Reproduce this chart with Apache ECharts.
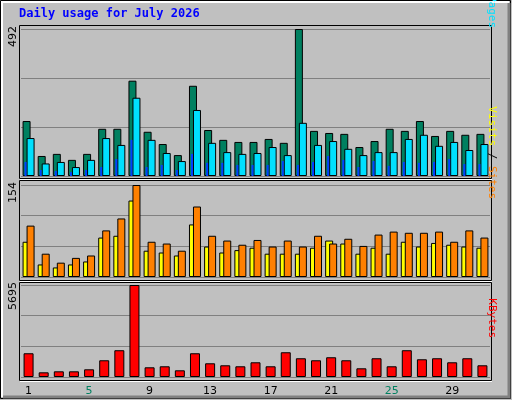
<!DOCTYPE html>
<html><head><meta charset="utf-8">
<script src="https://cdn.jsdelivr.net/npm/echarts@6/dist/echarts.min.js"></script>
<style>html,body{margin:0;padding:0;background:#c0c0c0}#c{width:512px;height:400px}</style>
</head><body><div id="c"></div>
<script>
const days = ['1','2','3','4','5','6','7','8','9','10','11','12','13','14','15','16','17','18','19','20','21','22','23','24','25','26','27','28','29','30','31'];
const weekend = [4,5,11,12,18,19,25,26];
const hits  = [184,67,74,54,74,158,158,319,148,107,70,302,154,121,114,114,124,111,492,151,144,141,97,117,158,151,184,134,151,138,141];
const files = [127,42,47,30,54,127,104,262,121,77,50,221,111,80,74,77,97,70,178,104,117,91,70,80,80,124,138,101,114,87,107];
const pages = [47,20,17,13,20,30,57,121,30,37,20,74,44,44,37,37,37,50,37,47,67,54,30,50,34,47,44,47,57,40,40];
const visits= [59,21,16,21,26,66,69,128,44,41,36,88,51,41,45,49,39,39,39,49,61,56,39,49,39,59,51,57,54,51,49];
const sites = [86,39,24,32,36,78,98,154,59,56,44,118,69,61,54,62,51,61,51,69,56,64,52,71,76,74,74,76,59,78,66];
const kbytes= [1470,290,352,352,476,1035,1657,5695,600,663,414,1470,849,725,663,911,663,1532,1160,1035,1222,1035,538,1160,663,1657,1097,1160,911,1160,725];

const chart = echarts.init(document.getElementById('c'), null, {renderer:'canvas'});
const L=21, R=22;
const panels = [{top:29,h:147,max:Math.max(...hits)},{top:185,h:92,max:Math.max(...sites)},{top:285,h:92,max:Math.max(...kbytes)}];
const grids = panels.map(p=>({left:L,right:R,top:p.top,height:p.h,show:false}));
const xAxes = [], yAxes = [];
panels.forEach((p,i)=>{
  xAxes.push({type:'category',data:days,gridIndex:i,axisLine:{show:false},axisTick:{show:false},
    axisLabel:{show:i===2,margin:9,fontFamily:'DejaVu Sans',fontSize:11,color:'#000',
      formatter:v=>weekend.includes(+v)?'{w|'+v+'}':v,rich:{w:{color:'#008060',fontFamily:'DejaVu Sans',fontSize:11}}}});
  yAxes.push({type:'value',gridIndex:i,min:0,max:p.max,interval:p.max/3,axisLabel:{show:false},axisLine:{show:false},axisTick:{show:false},
    splitLine:{lineStyle:{color:'#808080',width:1}}});
});
// extra x axis for pages offset
xAxes.push({type:'category',data:days,gridIndex:0,show:false});
const border={borderColor:'#000',borderWidth:1};
const series=[
 {type:'bar',xAxisIndex:0,yAxisIndex:0,data:hits,barWidth:8,barGap:'-50%',itemStyle:{color:'#008060',...border}},
 {type:'bar',xAxisIndex:0,yAxisIndex:0,data:files,barWidth:8,barGap:'-50%',itemStyle:{color:'#00e0ff',...border}},
 {type:'bar',xAxisIndex:3,yAxisIndex:0,data:pages,barWidth:2,barGap:0,z:3,itemStyle:{color:'#0040ff'}},
 {type:'bar',xAxisIndex:3,yAxisIndex:0,data:pages.map(()=>0),barWidth:6,barGap:0,itemStyle:{color:'transparent'}},
 {type:'bar',xAxisIndex:1,yAxisIndex:1,data:visits,barWidth:8,barGap:'-50%',itemStyle:{color:'#ffff00',...border}},
 {type:'bar',xAxisIndex:1,yAxisIndex:1,data:sites,barWidth:8,barGap:'-50%',itemStyle:{color:'#ff8000',...border}},
 {type:'bar',xAxisIndex:2,yAxisIndex:2,data:kbytes,barWidth:10,itemStyle:{color:'#ff0000',...border}}
];
const frames=[[25,178-25],[180,280-180],[282,380-282]];
const graphic=[
 {type:'rect',shape:{x:0.5,y:0.5,width:510,height:398},style:{fill:'none',stroke:'#000'},z:-1},
 {type:'polyline',shape:{points:[[2,397],[2,2],[509,2]]},style:{stroke:'#fff',lineWidth:2,fill:'none'},z:-1},
 {type:'polyline',shape:{points:[[3,397],[509,397],[509,3]]},style:{stroke:'#808080',lineWidth:3,fill:'none'},z:-1},
 {type:'text',left:19,top:8,style:{text:'Daily usage for July 2026',font:'bold 12px "DejaVu Sans Mono"',fill:'#0000ff'}},
 ...frames.map(f=>({type:'rect',shape:{x:L-1.5,y:f[0]+0.5,width:512-L-R+3,height:f[1]},style:{fill:'none',stroke:'#000',lineWidth:1},z:0})),
 ...frames.map(f=>({type:'line',shape:{x1:L-1,y1:f[0]+f[1]+1.5,x2:512-R+2,y2:f[0]+f[1]+1.5},style:{stroke:'#fff',lineWidth:1},z:0})),
 ...panels.map(p=>({type:'text',x:8,y:p.top-3,rotation:Math.PI/2,style:{text:String(p.max),font:'11px "DejaVu Sans"',fill:'#000',align:'right',verticalAlign:'top'}})),
 {type:'text',x:497,y:28,rotation:-Math.PI/2,style:{text:'{a|Hits} / {b|Files} / {c|Pages}',align:'right',verticalAlign:'top',font:'11px "DejaVu Sans Mono"',
   rich:{a:{fill:'#008060',font:'11px "DejaVu Sans Mono"'},b:{fill:'#0040ff',font:'11px "DejaVu Sans Mono"'},c:{fill:'#00e0ff',font:'11px "DejaVu Sans Mono"'}}}},
 {type:'text',x:497,y:199,rotation:-Math.PI/2,style:{text:'{a|Visits} / {b|Sites}',align:'right',verticalAlign:'top',font:'11px "DejaVu Sans Mono"',
   rich:{a:{fill:'#ffff00',font:'11px "DejaVu Sans Mono"'},b:{fill:'#ff8000',font:'11px "DejaVu Sans Mono"'}}}},
 {type:'text',x:497,y:338,rotation:-Math.PI/2,style:{text:'KBytes',align:'right',verticalAlign:'top',font:'11px "DejaVu Sans Mono"',fill:'#ff0000'}}
];
chart.setOption({animation:false,backgroundColor:'#c0c0c0',grid:grids,xAxis:xAxes,yAxis:yAxes,series,graphic});
</script></body></html>
